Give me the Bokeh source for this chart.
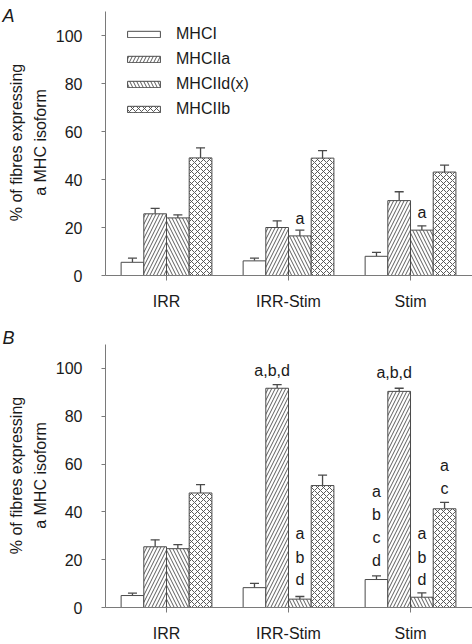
import numpy as np
from bokeh.plotting import figure
from bokeh.layouts import column, row
from bokeh.models import (ColumnDataSource, Legend, LegendItem,
                          FixedTicker, Range1d)
from bokeh.core.properties import value
from bokeh.embed import file_html
from bokeh.resources import INLINE

groups = ["IRR", "IRR-Stim", "Stim"]
isoforms = ["MHCI", "MHCIIa", "MHCIId(x)", "MHCIIb"]
y_ticks = [0, 20, 40, 60, 80, 100]
y_label_lines = ["% of fibres expressing", "a MHC isoform"]
panel_letters = ["A", "B"]

# Panel A: mean and SEM for each isoform across groups
a_mhci = [5.5, 6.1, 8.0]
a_mhci_err = [1.7, 1.1, 1.6]
a_mhciia = [25.7, 20.0, 31.2]
a_mhciia_err = [2.3, 2.8, 3.7]
a_mhciid = [24.0, 16.5, 18.9]
a_mhciid_err = [1.3, 2.4, 1.8]
a_mhciib = [49.0, 48.9, 43.1]
a_mhciib_err = [4.2, 3.1, 2.9]

# Panel B
b_mhci = [5.0, 8.3, 11.7]
b_mhci_err = [1.0, 1.8, 1.5]
b_mhciia = [25.4, 91.7, 90.4]
b_mhciia_err = [2.9, 1.5, 1.3]
b_mhciid = [24.6, 3.5, 4.3]
b_mhciid_err = [1.7, 1.1, 1.8]
b_mhciib = [47.9, 51.0, 41.3]
b_mhciib_err = [3.5, 4.4, 2.7]

# significance annotations: (group index, isoform index, level, text)
a_ann_group = [1, 2]
a_ann_iso = [2, 2]
a_ann_level = [23.6, 26.3]
a_ann_text = ["a", "a"]

b_ann_group = [1, 2, 1, 1, 1, 2, 2, 2, 2, 2, 2, 2, 2, 2]
b_ann_iso = [1, 1, 2, 2, 2, 0, 0, 0, 0, 2, 2, 2, 3, 3]
b_ann_level = [99.2, 98.2, 30.8, 21.1, 11.8, 48.5, 38.9, 29.2, 19.7,
               30.8, 21.1, 11.8, 59.3, 49.9]
b_ann_text = ["a,b,d", "a,b,d", "a", "b", "d", "a", "b", "c", "d",
              "a", "b", "d", "a", "c"]

FONT = "Liberation Sans"
TXT = "#1a1a1a"
AX = "#7a7a7a"
EDGE = "#4a4a4a"
HATCHES = [None, "/", "\\", "x"]
HSCALE = [0, 7, 7, 6]
BW = 0.186
OFFS = [-1.5 * BW, -0.5 * BW, 0.5 * BW, 1.5 * BW]
CAP = 0.037
W, H = 472, 644
STRIP_W = 50
AXIS_X = 105
PANEL_H = 322


def make_panel(means, errs, ann, top_border, bottom_border, standoff, legend):
    p = figure(width=W - STRIP_W, height=PANEL_H, output_backend="svg",
               toolbar_location=None, x_range=Range1d(0.5, 3.508),
               y_range=Range1d(0, 110), min_border_left=AXIS_X - STRIP_W,
               min_border_right=0, min_border_top=top_border,
               min_border_bottom=bottom_border)
    p.outline_line_color = None
    p.grid.visible = False

    xg = np.arange(1, len(groups) + 1)
    items = []
    for i, (m, e) in enumerate(zip(means, errs)):
        x = xg + OFFS[i]
        top = np.array(m) + np.array(e)
        src = ColumnDataSource(dict(x=x, top=m, etop=top, x0=x - CAP, x1=x + CAP))
        p.segment(x0="x", y0="top", x1="x", y1="etop", source=src,
                  line_color=EDGE, line_width=1.3)
        p.segment(x0="x0", y0="etop", x1="x1", y1="etop", source=src,
                  line_color=EDGE, line_width=1.3)
        kw = dict(fill_color="white", line_color=EDGE, line_width=1)
        if HATCHES[i]:
            kw.update(hatch_pattern=HATCHES[i], hatch_scale=HSCALE[i],
                      hatch_weight=0.9, hatch_color=EDGE)
        r = p.vbar(x="x", top="top", bottom=0, width=BW, source=src, **kw)
        items.append(LegendItem(label=isoforms[i], renderers=[r]))

    g, iso, lev, txt = ann
    ax = [gi + 1 + OFFS[ii] for gi, ii in zip(g, iso)]
    xo = [-5 if "," in t else 0 for t in txt]
    asrc = ColumnDataSource(dict(x=ax, y=lev, t=txt, xo=xo))
    p.text(x="x", y="y", text="t", x_offset="xo", source=asrc,
           text_font=value(FONT), text_font_size="16px", text_color=TXT,
           text_align="center", text_baseline="middle")

    if legend:
        lg = Legend(items=items, location=(18, 156), orientation="vertical",
                    glyph_width=41, glyph_height=8, label_height=20,
                    label_standoff=12, spacing=5, padding=0, margin=0,
                    border_line_color=None, background_fill_alpha=0,
                    label_text_font=FONT, label_text_font_size="16px",
                    label_text_color=TXT)
        p.add_layout(lg, "center")

    p.yaxis.ticker = FixedTicker(ticks=y_ticks)
    p.yaxis.axis_line_color = AX
    p.yaxis.major_tick_line_color = AX
    p.yaxis.major_tick_out = 4
    p.yaxis.major_tick_in = 0
    p.yaxis.minor_tick_line_color = None
    p.yaxis.major_label_standoff = 19
    p.yaxis.major_label_text_font = FONT
    p.yaxis.major_label_text_font_size = "16px"
    p.yaxis.major_label_text_color = TXT

    p.xaxis.ticker = FixedTicker(ticks=list(range(1, len(groups) + 1)))
    p.xaxis.major_label_overrides = {i + 1: g for i, g in enumerate(groups)}
    p.xaxis.axis_line_color = AX
    p.xaxis.major_tick_line_color = AX
    p.xaxis.major_tick_out = 5
    p.xaxis.major_tick_in = 0
    p.xaxis.minor_tick_line_color = None
    p.xaxis.major_label_standoff = standoff
    p.xaxis.major_label_text_font = FONT
    p.xaxis.major_label_text_font_size = "16px"
    p.xaxis.major_label_text_color = TXT
    return p


pA = make_panel([a_mhci, a_mhciia, a_mhciid, a_mhciib],
                [a_mhci_err, a_mhciia_err, a_mhciid_err, a_mhciib_err],
                (a_ann_group, a_ann_iso, a_ann_level, a_ann_text),
                11, 47, 12, True)
pB = make_panel([b_mhci, b_mhciia, b_mhciid, b_mhciib],
                [b_mhci_err, b_mhciia_err, b_mhciid_err, b_mhciib_err],
                (b_ann_group, b_ann_iso, b_ann_level, b_ann_text),
                22, 36, 12, False)

# left strip carrying the rotated y-axis titles and the panel letters
strip = figure(width=STRIP_W, height=H, output_backend="svg",
               toolbar_location=None, x_range=Range1d(0, STRIP_W),
               y_range=Range1d(0, H), x_axis_type=None,
               y_axis_type=None, min_border=0)
strip.outline_line_color = None
strip.grid.visible = False
line_x = [16, 40]          # centres of the two title lines, px from left
panel_cy = [142, 475]      # vertical centre of each title, px from top
xs, ys, ts = [], [], []
for cy in panel_cy:
    for lx, t in zip(line_x, y_label_lines):
        xs.append(lx)
        ys.append(H - cy)
        ts.append(t)
strip.text(x=xs, y=ys, text=ts, angle=np.pi / 2, text_align="center",
           text_baseline="middle", text_font=value(FONT),
           text_font_size="16px", text_color=TXT)
letter_top = [5, 327]
strip.text(x=[2, 2], y=[H - t for t in letter_top], text=panel_letters,
           text_align="left", text_baseline="top", text_font=value(FONT),
           text_font_size="18px", text_font_style="italic", text_color=TXT)

layout = row(strip, column(pA, pB, spacing=0), spacing=0)
open("out.html", "w").write(file_html(layout, INLINE))
